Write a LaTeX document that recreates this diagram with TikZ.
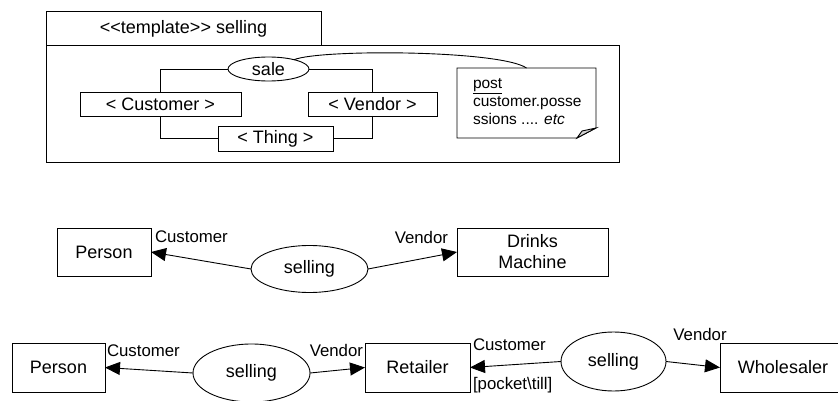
\documentclass[tikz,border=0pt]{standalone}
\usepackage{fontspec}
\setmainfont{Liberation Sans}
\usetikzlibrary{shapes.geometric,arrows.meta}

\begin{document}
\begin{tikzpicture}[x=1pt,y=-1pt,line width=0.9pt,
  every node/.style={inner sep=0pt,outer sep=0pt},
  mainfont/.style={font=\fontsize{18}{21}\selectfont},
  box/.style={draw,rectangle,mainfont},
  usecase/.style={draw,ellipse,mainfont},
  role/.style={font=\fontsize{16.8}{19}\selectfont},
  assoc/.style={-{Triangle[length=15pt,width=13pt]}},
]
\useasboundingbox (0,0) rectangle (838,401);

% ---- template package ----
\draw (46,11) rectangle (321,45.5);
\draw (46,45.5) rectangle (619,162);
\node[mainfont] (title) at (183.5,29) {<\kern0pt<template>\kern0pt> selling};

\node[usecase,minimum width=81pt,minimum height=24pt] (sale) at (268.5,69) {sale};
\node[box,minimum width=161pt,minimum height=24pt] (cust) at (160.5,104) {< Customer >};
\node[box,minimum width=129pt,minimum height=24pt] (vend) at (372.5,104) {< Vendor >};
\node[box,minimum width=115pt,minimum height=25pt] (thing) at (275.5,138.5) {< Thing >};

\draw (sale.west) -| (cust.north);
\draw (sale.east) -| (vend.north);
\draw (cust.south) |- (thing.west);
\draw (vend.south) |- (thing.east);

% note with folded corner
\node[minimum width=139pt,minimum height=70pt] (note) at (526.5,103) {};
\draw (note.north west) -- (note.north east) -- ([yshift=10pt]note.south east)
  -- ([xshift=-19pt]note.south east) -- (note.south west) -- cycle;
\filldraw[fill=gray!35] ([xshift=-19pt]note.south east) -- ([yshift=10pt]note.south east)
  -- ([xshift=-14pt,yshift=7pt]note.south east) -- cycle;
\node[anchor=base west,align=left,font=\fontsize{15.5}{18}\selectfont] (notetext) at (473,125)
  {\underline{post}\\customer.posse\\ssions .... \textit{etc}};
\draw (sale.20) .. controls (320,49) and (500,50) .. (note.north);

% ---- Person / Drinks Machine ----
\node[box,minimum width=94pt,minimum height=48pt] (person1) at (104,252) {Person};
\node[usecase,minimum width=117pt,minimum height=47pt] (sell1) at (309.5,269) {selling};
\node[box,minimum width=151pt,minimum height=48pt,align=center] (drinks) at (532.5,252) {Drinks\\Machine};
\draw[assoc] (sell1.west) -- (person1.east);
\draw[assoc] (sell1.east) -- (drinks.west);
\node[role,anchor=west] (c1) at (155,237) {Customer};
\node[role,anchor=east] (v1) at (448,237) {Vendor};

% ---- Person / Retailer / Wholesaler ----
\node[box,minimum width=93pt,minimum height=49pt] (person2) at (58.5,367.5) {Person};
\node[usecase,minimum width=117pt,minimum height=58pt] (sell2) at (251.5,373) {selling};
\node[box,minimum width=105pt,minimum height=49pt] (retailer) at (417.5,367.5) {Retailer};
\node[usecase,minimum width=105pt,minimum height=59pt] (sell3) at (613.5,361.5) {selling};
\node[box,minimum width=126pt,minimum height=49pt] (wholesaler) at (783,367.5) {Wholesaler};
\draw[assoc] (sell2.west) -- (person2.east);
\draw[assoc] (sell2.east) -- (retailer.west);
\draw[assoc] (sell3.west) -- (retailer.east);
\draw[assoc] (sell3.east) -- (wholesaler.west);
\node[role,anchor=west] (c2) at (107,351) {Customer};
\node[role,anchor=east] (v2) at (363,350) {Vendor};
\node[role,anchor=west] (c3) at (473,345) {Customer};
\node[role,anchor=west] (till) at (473,385) {[pocket\textbackslash till]};
\node[role] (v3) at (700,334) {Vendor};
\end{tikzpicture}
\end{document}
